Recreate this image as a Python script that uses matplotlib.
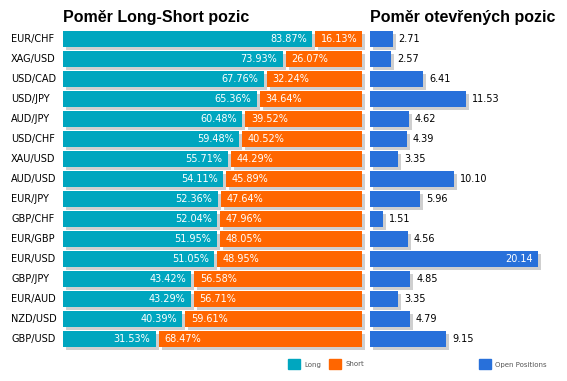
import matplotlib
matplotlib.use("Agg")
import matplotlib.pyplot as plt
from matplotlib.transforms import ScaledTranslation, blended_transform_factory
from matplotlib.patches import Rectangle

pairs = ["EUR/CHF", "XAG/USD", "USD/CAD", "USD/JPY", "AUD/JPY", "USD/CHF", "XAU/USD",
         "AUD/USD", "EUR/JPY", "GBP/CHF", "EUR/GBP", "EUR/USD", "GBP/JPY", "EUR/AUD",
         "NZD/USD", "GBP/USD"]
long_pct = [83.87, 73.93, 67.76, 65.36, 60.48, 59.48, 55.71, 54.11, 52.36, 52.04,
            51.95, 51.05, 43.42, 43.29, 40.39, 31.53]
short_pct = [16.13, 26.07, 32.24, 34.64, 39.52, 40.52, 44.29, 45.89, 47.64, 47.96,
             48.05, 48.95, 56.58, 56.71, 59.61, 68.47]
open_pos = [2.71, 2.57, 6.41, 11.53, 4.62, 4.39, 3.35, 10.10, 5.96, 1.51, 4.56,
            20.14, 4.85, 3.35, 4.79, 9.15]

W, H = 567, 381
TEAL = "#00A6BF"
ORANGE = "#FF6600"
BLUE = "#2870DA"
SHADOW = "#CFCFCF"

fig = plt.figure(figsize=(W / 100, H / 100), dpi=100)
fig.patch.set_facecolor("white")

def px_rect(x0, y0, x1, y1):
    return [x0 / W, 1 - y1 / H, (x1 - x0) / W, (y1 - y0) / H]

axL = fig.add_axes(px_rect(63, 29, 362, 349))
axR = fig.add_axes(px_rect(370, 29, 560, 349))
for ax in (axL, axR):
    ax.set_axis_off()
    ax.set_ylim(len(pairs) - 0.5, -0.5)
axL.set_xlim(0, 100)
axR.set_xlim(0, 190 / 8.34)

shift = ScaledTranslation(3 / 100, -3 / 100, fig.dpi_scale_trans)
ypos = list(range(len(pairs)))
BH = 0.8
GAP = 0.5  # half gap between segments, in percent units

# left panel
long_w = [p - GAP for p in long_pct]
short_left = [p + GAP for p in long_pct]
short_w = [s - GAP for s in short_pct]
axL.barh(ypos, long_w, height=BH, color=SHADOW, transform=axL.transData + shift, clip_on=False, zorder=1)
axL.barh(ypos, short_w, left=short_left, height=BH, color=SHADOW, transform=axL.transData + shift, clip_on=False, zorder=1)
axL.barh(ypos, long_w, height=BH, color=TEAL, clip_on=False, zorder=2)
axL.barh(ypos, short_w, left=short_left, height=BH, color=ORANGE, clip_on=False, zorder=2)

lab_font = dict(family="DejaVu Sans", fontsize=7)
cat_tr = blended_transform_factory(fig.transFigure, axL.transData)
for i, (lp, sp) in enumerate(zip(long_pct, short_pct)):
    axL.annotate(f"{lp:.2f}%", xy=(lp, i), xytext=(-7, 0), textcoords="offset pixels",
                 ha="right", va="center", color="white", zorder=3, **lab_font)
    axL.annotate(f"{sp:.2f}%", xy=(lp, i), xytext=(7, 0), textcoords="offset pixels",
                 ha="left", va="center", color="white", zorder=3, **lab_font)
    axL.annotate(pairs[i], xy=(11 / W, i), xycoords=cat_tr, ha="left", va="center",
                 color="black", annotation_clip=False, **lab_font)

# right panel
axR.barh(ypos, open_pos, height=BH, color=SHADOW, transform=axR.transData + shift, clip_on=False, zorder=1)
axR.barh(ypos, open_pos, height=BH, color=BLUE, clip_on=False, zorder=2)
vmax = max(open_pos)
for i, v in enumerate(open_pos):
    if v == vmax:
        axR.annotate(f"{v:.2f}", xy=(v, i), xytext=(-5, 0), textcoords="offset pixels",
                     ha="right", va="center", color="white", zorder=3, **lab_font)
    else:
        axR.annotate(f"{v:.2f}", xy=(v, i), xytext=(6, 0), textcoords="offset pixels",
                     ha="left", va="center", color="black", zorder=3, **lab_font)

# titles
fig.text(63 / W, 1 - 22 / H, "Poměr Long-Short pozic", family="Liberation Sans",
         fontweight="bold", fontsize=11.5, ha="left", va="baseline")
fig.text(370 / W, 1 - 22 / H, "Poměr otevřených pozic", family="Liberation Sans",
         fontweight="bold", fontsize=11.5, ha="left", va="baseline")

# legend
leg_items = [(288, TEAL, "Long"), (329, ORANGE, "Short"), (479, BLUE, "Open Positions")]
for x0, col, lab in leg_items:
    fig.patches.append(Rectangle((x0 / W, 1 - 369 / H), 12 / W, 10 / H,
                                 transform=fig.transFigure, color=col))
    fig.text((x0 + 16) / W, 1 - 364.5 / H, lab, fontsize=5, color="#555555",
             ha="left", va="center", family="DejaVu Sans")

fig.savefig("out.png", dpi=100, facecolor="white")
